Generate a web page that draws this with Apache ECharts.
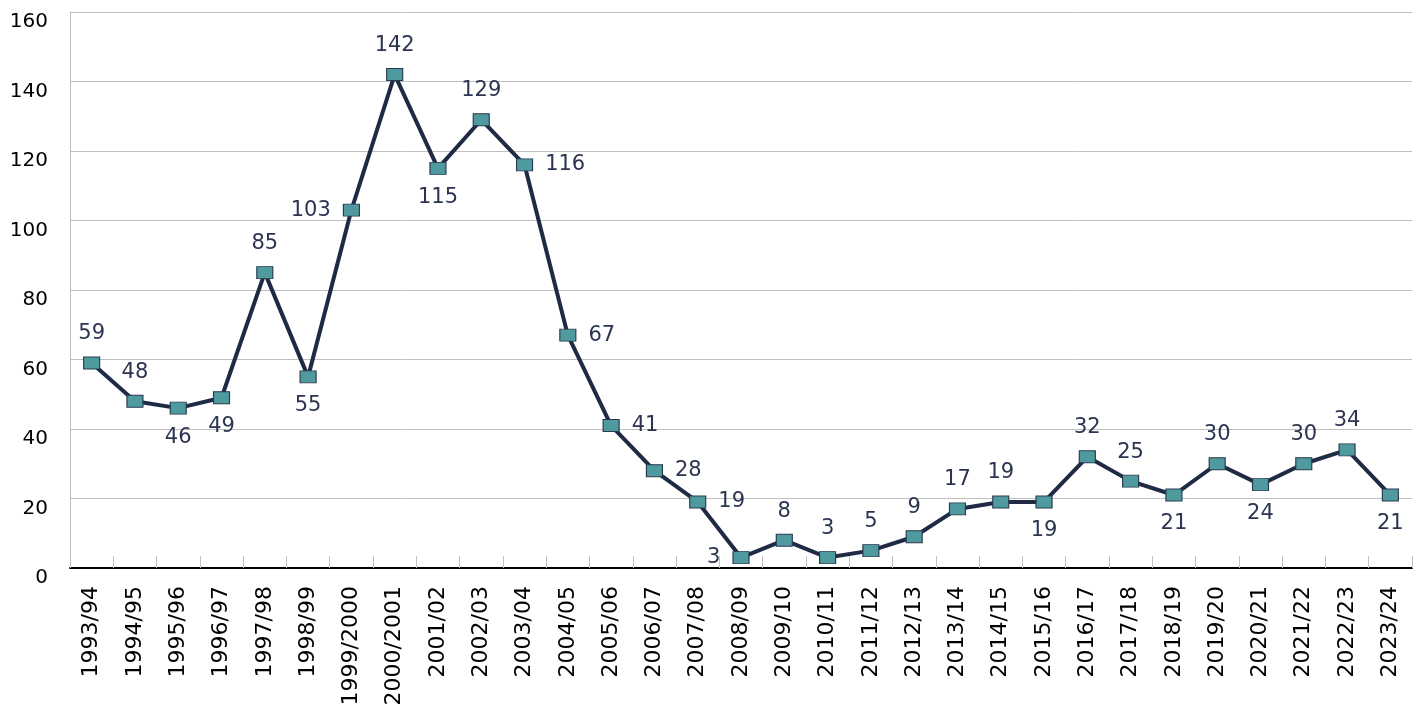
<!DOCTYPE html>
<html>
<head>
<meta charset="utf-8">
<script src="https://cdn.jsdelivr.net/npm/echarts@6/dist/echarts.min.js"></script>
<style>
  html, body { margin: 0; padding: 0; background: #fff; }
  #chart { width: 1418px; height: 718px; }
</style>
</head>
<body>
<div id="chart"></div>
<script>
var years = ['1993/94', '1994/95', '1995/96', '1996/97', '1997/98', '1998/99', '1999/2000',
    '2000/2001', '2001/02', '2002/03', '2003/04', '2004/05', '2005/06', '2006/07', '2007/08',
    '2008/09', '2009/10', '2010/11', '2011/12', '2012/13', '2013/14', '2014/15', '2015/16',
    '2016/17', '2017/18', '2018/19', '2019/20', '2020/21', '2021/22', '2022/23', '2023/24'];
var counts = [59, 48, 46, 49, 85, 55, 103, 142, 115, 129, 116, 67, 41, 28, 19,
    3, 8, 3, 5, 9, 17, 19, 19, 32, 25, 21, 30, 24, 30, 34, 21];
// where each value label sits relative to its point
var labelPos = ['top', 'top', 'bottom', 'bottom', 'top', 'bottom', 'left', 'top', 'bottom', 'top',
    'right', 'right', 'right', 'right', 'right', 'left', 'top', 'top', 'top', 'top', 'top',
    'top', 'bottom', 'top', 'top', 'bottom', 'top', 'bottom', 'top', 'top', 'bottom'];

var chart = echarts.init(document.getElementById('chart'));

var seriesData = counts.map(function (v, i) {
    return {
        value: v,
        label: { position: labelPos[i] }
    };
});

var option = {
    animation: false,
    grid: { left: 70, right: 6, top: 12, bottom: 150 },
    xAxis: {
        type: 'category',
        data: years,
        boundaryGap: true,
        axisLine: { lineStyle: { color: '#000', width: 2 } },
        axisTick: { show: true, inside: true, length: 12, interval: 0, lineStyle: { color: '#bfbfbf' } },
        axisLabel: {
            interval: 0,
            rotate: 90,
            color: '#000',
            fontSize: 22,
            fontFamily: 'DejaVu Sans',
            margin: 18
        }
    },
    yAxis: {
        type: 'value',
        min: 0,
        max: 160,
        interval: 20,
        axisLine: { show: true, lineStyle: { color: '#bfbfbf' } },
        axisTick: { show: false },
        splitLine: { lineStyle: { color: '#bfbfbf', width: 1 } },
        axisLabel: {
            color: '#000',
            fontSize: 20,
            fontFamily: 'DejaVu Sans',
            margin: 22,
            verticalAlign: 'top'
        }
    },
    series: [{
        type: 'line',
        data: seriesData,
        symbol: 'rect',
        symbolSize: [16, 12],
        lineStyle: { color: '#1f2a44', width: 4 },
        itemStyle: { color: '#4e9a9e', borderColor: '#2a3a4e', borderWidth: 1 },
        label: {
            show: true,
            color: '#2b3450',
            fontSize: 21,
            fontFamily: 'DejaVu Sans',
            distance: 12
        }
    }]
};

chart.setOption(option);
</script>
</body>
</html>
